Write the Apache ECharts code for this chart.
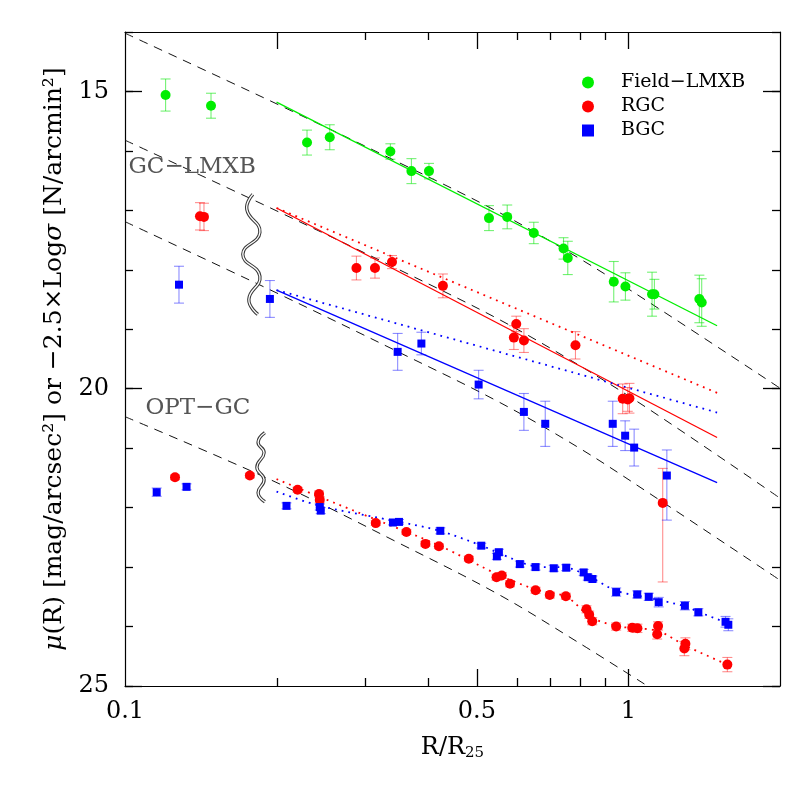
<!DOCTYPE html>
<html><head><meta charset="utf-8">
<script src="https://cdn.jsdelivr.net/npm/echarts@6/dist/echarts.min.js"></script>
<style>html,body{margin:0;padding:0;background:#fff}#c{width:810px;height:810px}</style>
</head><body><div id="c"></div>
<script>
// ---------------- data ----------------
// Field-LMXB (GC-LMXB panel)
const fieldX = [0.1204,0.1482,0.2299,0.2551,0.3366,0.3706,0.4016,0.5284,0.5744,0.6486,0.7431,0.7577,0.9350,0.9863,1.114,1.126,1.383,1.398];
const fieldY = [15.06,15.24,15.86,15.77,16.01,16.34,16.34,17.13,17.11,17.38,17.64,17.80,18.20,18.28,18.41,18.41,18.49,18.55];
const fieldErr = [0.27,0.21,0.21,0.21,0.13,0.21,0.13,0.21,0.20,0.18,0.18,0.28,0.34,0.23,0.37,0.25,0.40,0.40];
// RGC (GC-LMXB)
const rgcX = [0.1409,0.1435,0.2882,0.3137,0.3391,0.4280,0.5986,0.5921,0.6199,0.7848,0.974,1.0046,0.9968,1.1697];
const rgcY = [17.10,17.11,17.97,17.97,17.87,18.27,18.91,19.14,19.19,19.27,20.17,20.16,20.18,21.92];
const rgcErrLo = [0.23,0.23,0.20,0.17,0.11,0.20,0.13,0.20,0.20,0.23,0.25,0.25,0.20,0.58];
const rgcErrHi = [0.23,0.23,0.20,0.17,0.11,0.20,0.13,0.20,0.20,0.23,0.25,0.25,0.20,1.33];
// BGC (GC-LMXB)
const bgcX = [0.1280,0.1940,0.3480,0.3879,0.5040,0.6199,0.6835,0.9307,0.985,1.0264,1.192];
const bgcY = [18.25,18.49,19.38,19.24,19.93,20.39,20.59,20.59,20.79,20.99,21.46];
const bgcErrLo = [0.31,0.31,0.31,0.19,0.24,0.31,0.38,0.38,0.25,0.31,0.43];
const bgcErrHi = [0.31,0.31,0.31,0.19,0.24,0.31,0.38,0.38,0.25,0.31,0.75];
// OPT-GC RGC
const optRX = [0.1257,0.1770,0.2202,0.2429,0.2437,0.3148,0.3622,0.3951,0.4203,0.4818,0.5470,0.5603,0.5818,0.6539,0.6978,0.7511,0.8254,0.8356,0.8473,0.9454,1.0175,1.0420,1.1452,1.1405,1.2975,1.2915,1.572];
const optRY = [21.49,21.46,21.70,21.77,21.87,22.26,22.41,22.61,22.65,22.86,23.17,23.14,23.28,23.39,23.47,23.49,23.71,23.80,23.91,24.00,24.02,24.03,23.99,24.13,24.29,24.37,24.64];
const optRErr = [0.04,0.04,0.04,0.05,0.05,0.04,0.04,0.04,0.04,0.04,0.05,0.05,0.05,0.05,0.05,0.05,0.06,0.06,0.06,0.06,0.06,0.07,0.07,0.08,0.10,0.12,0.12];
// OPT-GC BGC
const optBX = [0.1156,0.1325,0.2093,0.2437,0.2448,0.3406,0.3501,0.4230,0.5101,0.5529,0.5478,0.6086,0.6539,0.7106,0.7522,0.8149,0.8302,0.8482,0.9454,1.0411,1.0973,1.1484,1.2945,1.3767,1.559,1.579];
const optBY = [21.74,21.65,21.97,21.99,22.05,22.25,22.24,22.39,22.64,22.75,22.82,22.95,23.00,23.02,23.01,23.09,23.17,23.20,23.42,23.46,23.50,23.59,23.65,23.76,23.92,23.97];
const optBErr = [0.07,0.05,0.05,0.05,0.05,0.04,0.04,0.05,0.04,0.05,0.05,0.05,0.05,0.05,0.05,0.05,0.05,0.05,0.07,0.06,0.06,0.08,0.07,0.06,0.09,0.10];

// dashed reference profiles
const dX = [0.1,0.1968,0.3508,0.5549,0.7994,1.1007,2.0];
const d1Y = [14.02,15.18,16.20,17.04,17.81,18.55,19.99];
const d2Y = [15.82,16.98,18.00,18.84,19.61,20.35,21.84];
const d3Y = [17.19,18.36,19.39,20.23,21.00,21.76,23.22];
const d4X = [0.1,0.1968,0.3508,0.5549,0.7994,1.1007];
const d4Y = [20.47,21.55,22.60,23.47,24.28,25.02];

// straight fits
const fitX = [0.2,1.5];
const greenFitY = [15.18,18.94];
const redFitY = [16.96,20.82];
const redDotY = [16.96,20.07];
const blueFitY = [18.34,21.58];
const blueDotY = [18.34,20.40];
// OPT-GC dotted curves
const optRLineX = [0.2,0.2437,0.3148,0.4216,0.5549,0.6567,0.7532,0.8446,0.9597,1.0515,1.152,1.297,1.572];
const optRLineY = [21.52,21.82,22.20,22.64,23.14,23.38,23.50,23.85,24.00,24.03,24.08,24.32,24.64];
const optBLineX = [0.2,0.2437,0.3508,0.4216,0.5113,0.5549,0.6539,0.7532,0.8367,0.9467,1.1008,1.297,1.383,1.572];
const optBLineY = [21.73,21.97,22.24,22.39,22.64,22.77,22.99,23.01,23.16,23.40,23.52,23.66,23.76,23.94];

// axis ticks
const xMinorTicks = [0.2,0.3,0.4,0.6,0.7,0.8,0.9];
const xMajorBottom = [0.5,1];
const xMajorTop = [0.2,0.5,1];
const xTickLabels = [0.1,0.5,1];
const yMajorTicks = [15,20,25];

// ---------------- styling ----------------
const FONT = 'DejaVu Serif';
const GREEN = '#00ee00', RED = '#ff0000', BLUE = '#0000ff';
const lg = Math.log10;

function pairs(xs, ys){ return xs.map((x,i)=>[x, ys[i]]); }
function lineSeries(xs, ys, style, smooth){
  return {type:'line', xAxisIndex:0, yAxisIndex:0, data:pairs(xs,ys), symbol:'none', showSymbol:false,
          smooth: smooth||false, lineStyle:style, silent:true, z:2, clip:true};
}
function errData(xs, ys, lo, hi){ return xs.map((x,i)=>[x, ys[i]-lo[i], ys[i]+hi[i]]); }
function errSeries(data, color){
  return {type:'custom', xAxisIndex:0, yAxisIndex:0, data:data, silent:true, z:3, clip:true,
    encode:{x:0, y:[1,2]},
    renderItem:function(params, api){
      const x = api.value(0);
      const p1 = api.coord([x, api.value(1)]), p2 = api.coord([x, api.value(2)]);
      const w = 5, st = {stroke:color, lineWidth:1.1};
      return {type:'group', children:[
        {type:'line', shape:{x1:p1[0],y1:p1[1],x2:p2[0],y2:p2[1]}, style:st},
        {type:'line', shape:{x1:p1[0]-w,y1:p1[1],x2:p1[0]+w,y2:p1[1]}, style:st},
        {type:'line', shape:{x1:p2[0]-w,y1:p2[1],x2:p2[0]+w,y2:p2[1]}, style:st}
      ]};
    }};
}
function scatter(name, xs, ys, color, symbol, size){
  return {type:'scatter', name:name, xAxisIndex:0, yAxisIndex:0, data:pairs(xs,ys), symbol:symbol, symbolSize:size,
          itemStyle:{color:color, opacity:1}, z:5, clip:true, silent:true};
}

const dash = {color:'#111', width:1, type:[9,7]};
const axisLine = {show:true, onZero:false, lineStyle:{color:'#000', width:1.2}};
const noLine = {show:false, onZero:false};
const tickLine = {color:'#000', width:1.3};
const labelStyle = {fontFamily:FONT, fontSize:24, color:'#000'};

function yTickAxis(pos, major, line){
  const a = {type:'value', min:14, max:25, inverse:true, position:pos, axisLine: line ? axisLine : noLine,
    axisLabel:{show:false}, splitLine:{show:false}};
  if (major) a.axisTick = {show:true, inside:true, length:17, customValues:yMajorTicks, lineStyle:tickLine};
  else { a.interval = 1; a.axisTick = {show:true, inside:true, length:8, lineStyle:tickLine}; }
  return a;
}

const option = {
  animation:false,
  backgroundColor:'#fff',
  grid:{left:125, right:30, top:32, bottom:124, outerBoundsMode:'none', containLabel:false},
  legend:{
    orient:'vertical', left:577, top:68, itemWidth:12, itemHeight:12, itemGap:5,
    textStyle:{fontFamily:FONT, fontSize:19, color:'#000', padding:[0,0,0,22]},
    data:[{name:'Field−LMXB', icon:'circle'},{name:'RGC', icon:'circle'},{name:'BGC', icon:'rect'}],
    selectedMode:false
  },
  xAxis:[
    {type:'log', logBase:10, min:0.1, max:2, position:'bottom', axisLine:axisLine,
     axisTick:{show:false}, axisLabel:{show:false}, splitLine:{show:false}, minorTick:{show:false},
     name:'R/R{s|25}', nameLocation:'middle', nameGap:49,
     nameTextStyle:{fontFamily:FONT, fontSize:24, color:'#000', lineHeight:26,
       rich:{s:{fontFamily:FONT, fontSize:15, color:'#000', verticalAlign:'bottom', lineHeight:26}}}},
    {type:'value', min:-1, max:lg(2), position:'bottom', axisLine:noLine, axisTick:{show:false},
     axisLabel:Object.assign({show:true, margin:14, customValues:xTickLabels.map(lg),
        formatter:function(v){ return String(+Math.pow(10,v).toFixed(2)); }}, labelStyle),
     splitLine:{show:false}},
    {type:'log', logBase:10, min:0.1, max:2, position:'top', axisLine:axisLine,
     axisTick:{show:false}, axisLabel:{show:false}, splitLine:{show:false}}
  ],
  yAxis:[
    {type:'value', min:14, max:25, inverse:true, position:'left', axisLine:axisLine,
     axisTick:{show:true, inside:true, length:17, customValues:yMajorTicks, lineStyle:tickLine},
     axisLabel:Object.assign({show:true, margin:16, customValues:yMajorTicks}, labelStyle),
     splitLine:{show:false},
     name:'{i|μ}(R) [mag/arcsec²] or −2.5×Log{i|σ} [N/arcmin²]',
     nameLocation:'middle', nameGap:58, nameRotate:90,
     nameTextStyle:{fontFamily:FONT, fontSize:25, color:'#000',
       rich:{i:{fontFamily:FONT, fontSize:25, fontStyle:'italic', color:'#000'}}}},
    yTickAxis('left', false, false),
    yTickAxis('right', true, true),
    yTickAxis('right', false, false)
  ],
  series:[
    lineSeries(dX, d1Y, dash, 0.35),
    lineSeries(dX, d2Y, dash, 0.35),
    lineSeries(dX, d3Y, dash, 0.35),
    lineSeries(d4X, d4Y, dash, 0.35),
    lineSeries(fitX, greenFitY, {color:GREEN, width:1.3}),
    lineSeries(fitX, redFitY, {color:RED, width:1.3}),
    lineSeries(fitX, redDotY, {color:RED, width:1.8, type:[1.8,5]}),
    lineSeries(fitX, blueFitY, {color:BLUE, width:1.3}),
    lineSeries(fitX, blueDotY, {color:BLUE, width:1.8, type:[1.8,5]}),
    lineSeries(optRLineX, optRLineY, {color:RED, width:1.8, type:[1.8,5]}, 0.3),
    lineSeries(optBLineX, optBLineY, {color:BLUE, width:1.8, type:[1.8,5]}, 0.3),
    errSeries(errData(fieldX, fieldY, fieldErr, fieldErr), 'rgba(0,230,0,0.55)'),
    errSeries(errData(rgcX, rgcY, rgcErrLo, rgcErrHi), 'rgba(255,0,0,0.45)'),
    errSeries(errData(bgcX, bgcY, bgcErrLo, bgcErrHi), 'rgba(0,0,255,0.45)'),
    errSeries(errData(optRX, optRY, optRErr, optRErr), 'rgba(255,0,0,0.45)'),
    errSeries(errData(optBX, optBY, optBErr, optBErr), 'rgba(0,0,255,0.45)'),
    scatter('Field−LMXB', fieldX, fieldY, GREEN, 'circle', 10),
    scatter('RGC', rgcX, rgcY, RED, 'circle', 10),
    scatter('BGC', bgcX, bgcY, BLUE, 'rect', 8),
    scatter('RGC', optRX, optRY, RED, 'circle', 10),
    scatter('BGC', optBX, optBY, BLUE, 'rect', 8)
  ]
};

const chart = echarts.init(document.getElementById('c'), null, {renderer:'canvas'});
chart.setOption(option);

// annotations: ticks of the log axis, labels and braces placed through the axes
function px(x, y){ return chart.convertToPixel({xAxisIndex:0, yAxisIndex:0}, [x, y]); }
function xTick(v, atTop, len){
  const p = px(v, atTop ? 14 : 25);
  const x = Math.round(p[0]) + 0.5;
  return {type:'line', z:60, silent:true,
    shape:{x1:x, y1:p[1], x2:x, y2: atTop ? p[1] + len : p[1] - len},
    style:{stroke:'#000', lineWidth:1.3}};
}
function brace(xl, xr, yt, yb, shape){
  const a = px(xl, yt), b = px(xr, yb);
  const pts = shape.map(p => [a[0] + (b[0]-a[0])*p[0], a[1] + (b[1]-a[1])*p[1]]);
  return [
    {type:'polyline', shape:{points:pts, smooth:0.5}, style:{stroke:'#3a3a3a', lineWidth:3.4, fill:null}, z:50, silent:true},
    {type:'polyline', shape:{points:pts, smooth:0.5}, style:{stroke:'#ffffff', lineWidth:1.3, fill:null}, z:51, silent:true}
  ];
}
function label(text, x, y){
  const p = px(x, y);
  return {type:'text', z:52, silent:true, style:{text:text, x:p[0], y:p[1], align:'left', verticalAlign:'middle',
          fontFamily:FONT, fontSize:23, fill:'#555'}};
}
let graphics = [];
xMinorTicks.forEach(v => { if (xMajorBottom.indexOf(v) < 0) graphics.push(xTick(v, false, 8)); });
xMajorBottom.forEach(v => graphics.push(xTick(v, false, 17)));
xMinorTicks.forEach(v => { if (xMajorTop.indexOf(v) < 0) graphics.push(xTick(v, true, 8)); });
xMajorTop.forEach(v => graphics.push(xTick(v, true, 17)));
graphics = graphics
  .concat(brace(0.1714, 0.1879, 16.73, 18.75, [[0.5,0],[0.2,0.125],[0.85,0.317],[0,0.5],[0.85,0.683],[0.3,0.875],[0.75,1]]))
  .concat(brace(0.1828, 0.1896, 20.74, 21.90, [[1,0],[0.15,0.14],[0.9,0.29],[0,0.5],[0.9,0.68],[0.15,0.87],[1,1]]))
  .concat([label('GC−LMXB', 0.1016, 16.27), label('OPT−GC', 0.1098, 20.32)]);
chart.setOption({graphic:graphics});
</script></body></html>
